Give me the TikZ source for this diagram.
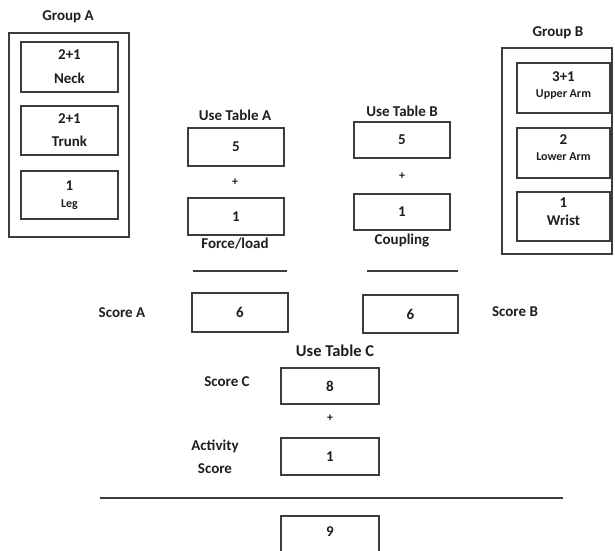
\documentclass[tikz,border=0pt]{standalone}
\usepackage{fontspec}
\setmainfont{Carlito}
\begin{document}
\definecolor{edge}{HTML}{3C3C3C}
\definecolor{ink}{HTML}{1E1E1E}
\begin{tikzpicture}[x=1pt,y=-1pt,
  every node/.style={text=ink,font=\fontsize{15}{20}\selectfont\bfseries},
  cell/.style={draw=edge,line width=1.3pt,inner sep=0pt,align=center,
    minimum width=96pt,minimum height=37pt},
  group/.style={draw=edge,line width=1.6pt,inner sep=0pt},
  plus/.style={font=\fontsize{12}{12}\selectfont\bfseries},
  rule/.style={draw=edge,line width=1.6pt}]
\useasboundingbox (0,0) rectangle (615,550);
\begin{scope}
\clip (0,0) rectangle (615,550);

% Group A: neck, trunk, leg
\node (grpA) at (68,17) {Group A};
\node[group,minimum width=120pt,minimum height=204pt] (frameA) at (69,135) {};
\node[cell,minimum width=97pt,minimum height=50pt] (neck) at (69.5,67)
  {2+1\\[4pt]Neck};
\node[cell,minimum width=97pt,minimum height=49pt] (trunk) at (69.5,130.5)
  {2+1\\[3pt]Trunk};
\node[cell,minimum width=97pt,minimum height=48pt] (leg) at (69.5,195)
  {1\\[-3pt]{\fontsize{12}{12}\selectfont Leg}};

% Group B: upper arm, lower arm, wrist
\node (grpB) at (558,33) {Group B};
\node[group,minimum width=110pt,minimum height=206pt] (frameB) at (557,151) {};
\node[cell,minimum width=93pt,minimum height=50pt,text depth=7pt] (upper) at (563.5,88)
  {3+1\\[-4pt]{\fontsize{12}{12}\selectfont Upper Arm}};
\node[cell,minimum width=93pt,minimum height=50pt,text depth=10pt] (lower) at (563.5,153)
  {2\\[-4pt]{\fontsize{12}{12}\selectfont Lower Arm}};
\node[cell,minimum width=93pt,minimum height=49pt,text depth=9pt] (wrist) at (563.5,216.5)
  {1\\[-2pt]Wrist};

% Table A column
\node (tabA) at (235,115) {Use Table A};
\node[cell,minimum height=38pt] (a5) at (236,147) {5};
\node[plus] (plusA) at (235,182) {+};
\node[cell] (a1) at (236,216.5) {1};
\node (force) at (235,244) {Force/load};
\coordinate (ruleA1) at (193,271);
\coordinate (ruleA2) at (287,271);
\draw[rule] (ruleA1) -- (ruleA2);

% Table B column
\node (tabB) at (402,111) {Use Table B};
\node[cell,minimum height=36pt] (b5) at (402,140) {5};
\node[plus] (plusB) at (402,176) {+};
\node[cell,minimum height=36pt] (b1) at (402,212) {1};
\node (coupling) at (402,240) {Coupling};
\coordinate (ruleB1) at (367,271);
\coordinate (ruleB2) at (458,271);
\draw[rule] (ruleB1) -- (ruleB2);

% Scores A and B
\node (labA) at (122,313) {Score A};
\node[cell,minimum height=39pt] (scoreA) at (240,312.5) {6};
\node[cell,minimum width=95pt,minimum height=38pt] (scoreB) at (410.5,314) {6};
\node (labB) at (515,312) {Score B};

% Table C and final score
\node[font=\fontsize{16.5}{20}\selectfont\bfseries] (tabC) at (335,351) {Use Table C};
\node (labC) at (227,382) {Score C};
\node[cell,minimum width=98pt,minimum height=36pt] (c8) at (330,386) {8};
\node[plus] (plusC) at (330,418) {+};
\node[align=center,font=\fontsize{15}{23}\selectfont\bfseries] (labAct) at (215,456.5) {Activity\\Score};
\node[cell,minimum width=98pt] (act) at (330,456.5) {1};
\coordinate (ruleC1) at (100,498);
\coordinate (ruleC2) at (563,498);
\draw[rule] (ruleC1) -- (ruleC2);
\node[cell,minimum width=98pt,minimum height=44pt] (total) at (330,538) {};
\node (nine) at (330,532) {9};
\end{scope}
\end{tikzpicture}
\end{document}
